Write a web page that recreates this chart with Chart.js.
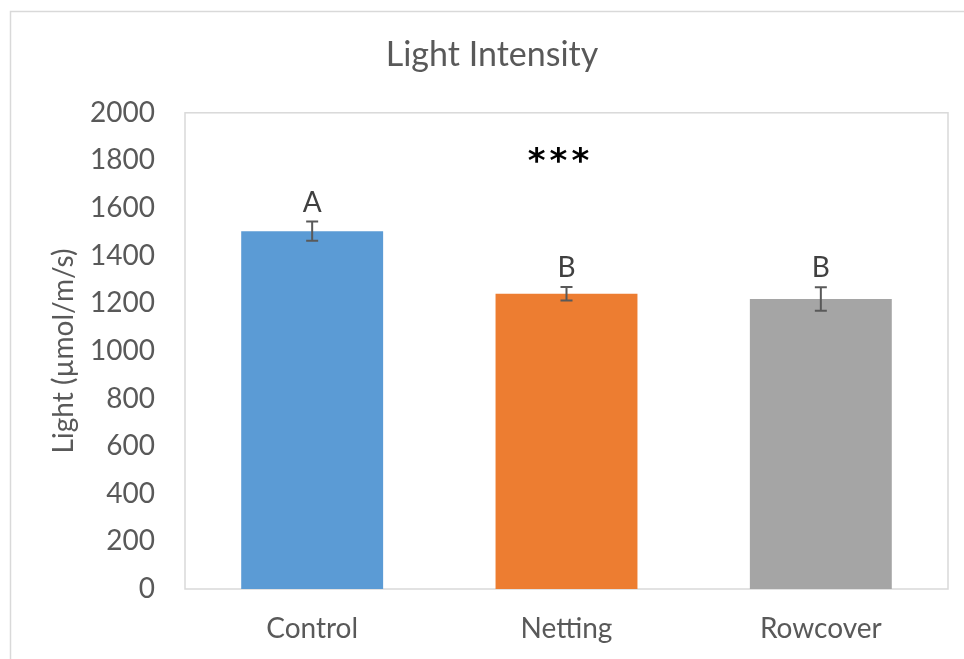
<!DOCTYPE html>
<html>
<head>
<meta charset="utf-8">
<title>Light Intensity</title>
<script src="https://cdn.jsdelivr.net/npm/chart.js@4.4.1/dist/chart.umd.min.js"></script>
<style>
    html, body { margin: 0; padding: 0; background: #fff; }
    canvas { display: block; }
</style>
</head>
<body>
<canvas id="lightChart" width="964" height="659"></canvas>
<script>
// data
const categories = ['Control', 'Netting', 'Rowcover'];
const lightMeans = [1503, 1240, 1218];
const lightErrors = [40, 28, 49];
const groupLetters = ['A', 'B', 'B'];
const yTicks = [0, 200, 400, 600, 800, 1000, 1200, 1400, 1600, 1800, 2000];
const sigLabel = '***';

const barColors = ['#5B9BD5', '#ED7D31', '#A5A5A5'];
const textColor = '#595959';
const fontFamily = 'Lato, "Open Sans", sans-serif';

// outer chart frame (only top and left edges fall inside the picture)
const framePlugin = {
    id: 'frame',
    beforeDraw(chart) {
        const ctx = chart.ctx;
        ctx.save();
        ctx.fillStyle = '#fff';
        ctx.fillRect(0, 0, chart.width, chart.height);
        ctx.strokeStyle = '#d9d9d9';
        ctx.lineWidth = 1.5;
        ctx.beginPath();
        ctx.moveTo(10.5, chart.height);
        ctx.lineTo(10.5, 11.5);
        ctx.lineTo(chart.width, 11.5);
        ctx.stroke();
        // plot area box
        const a = chart.chartArea;
        ctx.strokeRect(a.left, a.top, a.right - a.left, a.bottom - a.top);
        ctx.restore();
    }
};

// error bars, group letters and significance mark
const annotatePlugin = {
    id: 'annotate',
    afterDatasetsDraw(chart) {
        const ctx = chart.ctx;
        const meta = chart.getDatasetMeta(0);
        const y = chart.scales.y;
        ctx.save();
        meta.data.forEach((bar, i) => {
            const hi = y.getPixelForValue(lightMeans[i] + lightErrors[i]);
            const lo = y.getPixelForValue(lightMeans[i] - lightErrors[i]);
            ctx.strokeStyle = '#595959';
            ctx.lineWidth = 2;
            ctx.beginPath();
            ctx.moveTo(bar.x, hi);
            ctx.lineTo(bar.x, lo);
            ctx.moveTo(bar.x - 6, hi);
            ctx.lineTo(bar.x + 6, hi);
            ctx.moveTo(bar.x - 6, lo);
            ctx.lineTo(bar.x + 6, lo);
            ctx.stroke();

            ctx.fillStyle = '#404040';
            ctx.font = '28px ' + fontFamily;
            ctx.textAlign = 'center';
            ctx.textBaseline = 'middle';
            ctx.fillText(groupLetters[i], bar.x, hi - 19);
        });

        const a = chart.chartArea;
        ctx.fillStyle = '#000';
        ctx.font = 'bold 34px "DejaVu Sans", sans-serif';
        ctx.letterSpacing = '4px';
        ctx.textAlign = 'center';
        ctx.textBaseline = 'middle';
        ctx.fillText(sigLabel, (a.left + a.right) / 2 - 6, a.top + 50);
        ctx.restore();
    }
};

new Chart(document.getElementById('lightChart').getContext('2d'), {
    type: 'bar',
    data: {
        labels: categories,
        datasets: [{
            label: 'Light',
            data: lightMeans,
            backgroundColor: barColors,
            borderWidth: 0,
            barPercentage: 0.558,
            categoryPercentage: 1.0,
        }]
    },
    options: {
        responsive: false,
        devicePixelRatio: 1,
        animation: false,
        layout: {
            padding: { left: 36, right: 16, top: 0, bottom: 0 }
        },
        plugins: {
            legend: { display: false },
            tooltip: { enabled: false },
            title: {
                display: true,
                text: 'Light Intensity',
                color: textColor,
                font: { family: fontFamily, size: 34, weight: 'normal', lineHeight: 1.2 },
                padding: { top: 35, bottom: 37 },
            },
        },
        scales: {
            x: {
                grid: { display: false, drawTicks: false },
                border: { display: false },
                ticks: {
                    color: textColor,
                    padding: 23,
                    font: { family: fontFamily, size: 28, lineHeight: 1.2 },
                },
                afterFit(scale) { scale.height = 70; },
            },
            y: {
                min: 0,
                max: 2000,
                afterBuildTicks(scale) { scale.ticks = yTicks.map(v => ({ value: v })); },
                grid: { display: false, drawTicks: false },
                border: { display: false },
                ticks: {
                    color: textColor,
                    padding: 30,
                    font: { family: fontFamily, size: 28, lineHeight: 1.2 },
                    callback: (value) => String(value),
                },
                title: {
                    display: true,
                    text: 'Light (\u00b5mol/m/s)',
                    color: textColor,
                    font: { family: fontFamily, size: 28, lineHeight: 1.2 },
                    padding: { top: 11, bottom: 0 },
                },
                afterFit(scale) { scale.width = 149; },
            },
        },
    },
    plugins: [framePlugin, annotatePlugin],
});
</script>
</body>
</html>
